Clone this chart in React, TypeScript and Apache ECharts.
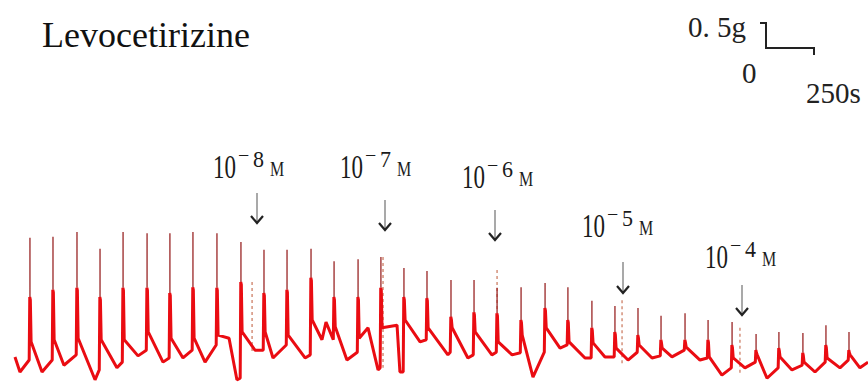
import React, { useEffect, useRef } from 'react';
import * as echarts from 'echarts';

// time in seconds, force in g (250 s and 0.5 g scale bars)
const spikeTimes = [156, 276, 401, 521, 641, 766, 885, 1005, 1130, 1255, 1375, 1495, 1620, 1740, 1865, 1984, 2104, 2224, 2349, 2469, 2589, 2714, 2839, 2958, 3083, 3203, 3323, 3443, 3568, 3688, 3813, 3938, 4057, 4182, 4302, 4422];
const peakForce = [2.83, 2.85, 2.94, 2.62, 2.94, 2.92, 2.92, 2.94, 2.92, 2.75, 2.60, 2.60, 2.62, 2.38, 2.42, 2.46, 2.25, 2.19, 2.02, 2.02, 1.87, 1.88, 1.96, 1.88, 1.62, 1.52, 1.48, 1.33, 1.38, 1.25, 1.21, 0.98, 1.02, 1.00, 1.15, 1.02];
const shoulderForce = [1.69, 1.83, 1.87, 1.69, 1.87, 1.87, 1.77, 1.88, 1.87, 1.98, 1.77, 1.83, 2.06, 1.69, 1.69, 1.87, 1.69, 1.67, 1.31, 1.40, 1.38, 1.25, 1.48, 1.25, 1.10, 1.02, 0.96, 0.87, 0.87, 0.87, 0.77, 0.67, 0.71, 0.62, 0.77, 0.67];
const postForce = [0.83, 0.87, 0.90, 0.87, 0.87, 1.02, 0.90, 0.90, 0.96, 1.02, 1.02, 0.96, 1.25, 1.12, 0.90, 1.10, 1.25, 1.10, 1.10, 1.02, 0.83, 0.96, 1.10, 0.83, 0.81, 0.71, 0.77, 0.71, 0.73, 0.54, 0.52, 0.58, 0.54, 0.44, 0.52, 0.58];
const preForce = [0.48, 0.48, 0.58, 0.29, 0.44, 0.67, 0.52, 0.67, 0.77, 0.13, 0.67, 0.77, 0.58, 0.87, 0.63, 0.33, 0.25, 0.87, 0.63, 0.58, 0.63, 0.62, 0.63, 0.77, 0.52, 0.54, 0.63, 0.56, 0.67, 0.52, 0.33, 0.44, 0.33, 0.38, 0.44, 0.48];
const troughTimes = [219, 333, 495, 609, 719, 849, 953, 1068, 1234, 1328, 1422, 1589, 1677, 1807, 1969, 2083, 2188, 2333, 2437, 2562, 2667, 2776, 2917, 3047, 3151, 3271, 3396, 3500, 3646, 3760, 3880, 3995, 4125, 4245, 4375, 4479];
const troughForce = [0.25, 0.38, 0.10, 0.33, 0.56, 0.44, 0.52, 0.44, 0.10, 0.67, 0.52, 0.52, 0.87, 0.48, 0.29, 0.25, 0.83, 0.58, 0.52, 0.58, 0.58, 0.15, 0.71, 0.52, 0.54, 0.48, 0.52, 0.54, 0.48, 0.19, 0.33, 0.13, 0.29, 0.25, 0.33, 0.33];
const extraTimes = [104, 1193, 1698, 1917, 2068];
const extraForce = [0.25, 0.90, 1.21, 1.10, 1.15];
const traceStart: [number, number] = [78, 0.54];
const traceEnd: [number, number] = [4521, 0.44];

// drug additions
const doseExponents = ['8', '7', '6', '5', '4'];
const doseTimes = [1313, 1995, 2589, 3240, 3854];
const doseMarkTop = [1.98, 2.46, 2.21, 1.63, 1.10];
const doseMarkBottom = [0.63, 0.33, 1.40, 0.42, 0.19];

const titleText = 'Levocetirizine';
const scaleForceLabel = '0. 5g';
const scaleZeroLabel = '0';
const scaleTimeLabel = '250s';

function buildTrace() {
  const pts: [number, number][] = [];
  spikeTimes.forEach((t, i) => {
    pts.push([t - 4, preForce[i]]);
    pts.push([t - 1, shoulderForce[i]]);
    pts.push([t + 2, shoulderForce[i] - 0.05]);
    pts.push([t + 6, postForce[i]]);
    pts.push([troughTimes[i], troughForce[i]]);
  });
  extraTimes.forEach((t, i) => pts.push([t, extraForce[i]]));
  pts.sort((a, b) => a[0] - b[0]);
  return [traceStart, ...pts, traceEnd];
}

function buildTips() {
  const d: any[] = [];
  spikeTimes.forEach((t, i) => {
    d.push([t, shoulderForce[i]]);
    d.push([t, peakForce[i]]);
    d.push([t, '-']);
  });
  return d;
}

function buildDoseMarks() {
  const d: any[] = [];
  doseTimes.forEach((t, i) => {
    d.push([t, doseMarkTop[i]]);
    d.push([t, doseMarkBottom[i]]);
    d.push([t, '-']);
  });
  return d;
}

const SERIF = '"Liberation Serif", "Times New Roman", serif';

// annotation layout (pixels)
const arrowLayout = [
  { x: 257, y1: 193, y2: 223 },
  { x: 385, y1: 200, y2: 230 },
  { x: 495, y1: 210, y2: 240 },
  { x: 623, y1: 262, y2: 293 },
  { x: 742, y1: 285, y2: 315 },
];
const labelLayout = [
  { x: 213, y: 166 },
  { x: 340, y: 166 },
  { x: 462, y: 176 },
  { x: 582, y: 225 },
  { x: 705, y: 256 },
];

function txt(text: string, x: number, y: number, size: number, sy = 1, color = '#1a1a1a') {
  return {
    type: 'text',
    x,
    y,
    scaleY: sy,
    silent: true,
    style: {
      text,
      x: 0,
      y: 0,
      fill: color,
      font: `${size}px ${SERIF}`,
      fontSize: size,
      fontFamily: SERIF,
      align: 'left',
      verticalAlign: 'middle',
      textAlign: 'left',
      textVerticalAlign: 'middle',
    },
  };
}

function buildGraphic() {
  const els: any[] = [];
  els.push(txt(titleText, 42, 34.5, 36, 1, '#111'));
  els.push(txt(scaleForceLabel, 688, 27, 29, 1, '#222'));
  els.push(txt(scaleZeroLabel, 742, 72.5, 29, 1, '#222'));
  els.push(txt(scaleTimeLabel, 806, 93, 29, 1, '#222'));
  els.push({
    type: 'polyline',
    silent: true,
    shape: { points: [[760, 23], [766, 23], [766, 48], [814, 48], [814, 55]] },
    style: { stroke: '#222', lineWidth: 2, fill: null },
  });
  arrowLayout.forEach((a) => {
    els.push({
      type: 'line',
      silent: true,
      shape: { x1: a.x, y1: a.y1, x2: a.x, y2: a.y2 },
      style: { stroke: '#8c8c8c', lineWidth: 1.5 },
    });
    els.push({
      type: 'polyline',
      silent: true,
      shape: { points: [[a.x - 6, a.y2 - 7], [a.x, a.y2], [a.x + 6, a.y2 - 7]] },
      style: { stroke: '#222', lineWidth: 2.2, fill: null },
    });
  });
  labelLayout.forEach((l, i) => {
    els.push(txt('10', l.x, l.y, 23, 1.45));
    els.push(txt('−', l.x + 25, l.y - 11, 20, 1));
    els.push(txt(doseExponents[i], l.x + 40, l.y - 7, 22, 1.05));
    els.push(txt('M', l.x + 57, l.y + 3, 16, 1.35));
  });
  return els;
}

export default function App() {
  const ref = useRef<HTMLDivElement>(null);
  useEffect(() => {
    const chart = echarts.init(ref.current!, null, { renderer: 'svg' });
    chart.setOption({
      animation: false,
      backgroundColor: '#ffffff',
      grid: { left: 0, right: 0, top: 0, bottom: 0 },
      xAxis: { type: 'value', min: 0, max: 4521, show: false },
      yAxis: { type: 'value', min: 0, max: 7.404, show: false },
      series: [
        {
          type: 'line',
          name: 'doses',
          data: buildDoseMarks(),
          showSymbol: false,
          symbol: 'none',
          lineStyle: { color: '#d4907a', width: 1.5, type: [3, 3] },
          z: 1,
        },
        {
          type: 'line',
          name: 'tips',
          data: buildTips(),
          showSymbol: false,
          symbol: 'none',
          lineStyle: { color: '#9a2626', width: 1.3 },
          z: 2,
        },
        {
          type: 'line',
          name: 'trace',
          data: buildTrace(),
          showSymbol: false,
          symbol: 'none',
          lineStyle: { color: '#ea0c12', width: 3 },
          z: 3,
        },
      ],
      graphic: buildGraphic(),
    });
    return () => chart.dispose();
  }, []);
  return (
    <div
      ref={ref}
      style={{ position: 'fixed', left: 0, top: 0, width: 868, height: 385, background: '#fff' }}
    />
  );
}
